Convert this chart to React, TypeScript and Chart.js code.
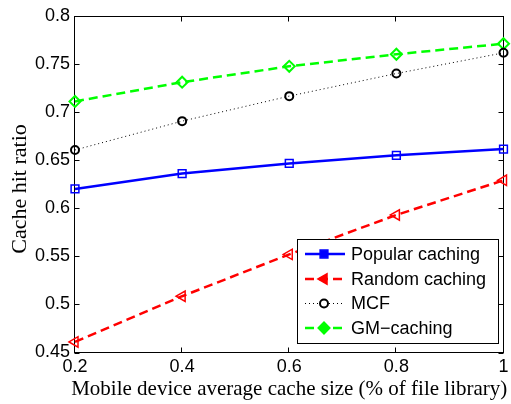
import { useEffect, useRef } from "react";
import { Chart, registerables } from "chart.js";

Chart.register(...registerables);

const cacheSizes = [0.2, 0.4, 0.6, 0.8, 1];
const popularCaching = [0.62, 0.636, 0.6465, 0.655, 0.6615];
const randomCaching = [0.461, 0.5085, 0.552, 0.593, 0.629];
const mcf = [0.6605, 0.6905, 0.7165, 0.74, 0.7615];
const gmCaching = [0.711, 0.731, 0.7475, 0.76, 0.771];
const xTicks = [0.2, 0.4, 0.6, 0.8, 1];
const yTicks = [0.45, 0.5, 0.55, 0.6, 0.65, 0.7, 0.75, 0.8];
const seriesNames = ["Popular caching", "Random caching", "MCF", "GM\u2212caching"];
const xTitle = "Mobile device average cache size (% of file library)";
const yTitle = "Cache hit ratio";

const TICK_FONT = "Liberation Sans";
const TITLE_FONT = "Liberation Serif";

const fmt = (v: number) => String(Math.round(v * 100) / 100);

function drawMarker(ctx: CanvasRenderingContext2D, style: string, x: number, y: number, r: number, filled: boolean) {
  ctx.beginPath();
  if (style === "rect") {
    const s = r * Math.SQRT1_2;
    ctx.rect(x - s, y - s, 2 * s, 2 * s);
  } else if (style === "triangle") {
    ctx.moveTo(x - r, y);
    ctx.lineTo(x + r * 0.5, y - r * 0.866);
    ctx.lineTo(x + r * 0.5, y + r * 0.866);
    ctx.closePath();
  } else if (style === "circle") {
    ctx.arc(x, y, r, 0, Math.PI * 2);
  } else {
    ctx.moveTo(x - r, y);
    ctx.lineTo(x, y - r);
    ctx.lineTo(x + r, y);
    ctx.lineTo(x, y + r);
    ctx.closePath();
  }
  if (filled) ctx.fill();
  ctx.stroke();
}

const framePlugin = {
  id: "frame",
  beforeDatasetsDraw(chart: any) {
    const { ctx, chartArea: a, scales } = chart;
    ctx.save();
    ctx.strokeStyle = "#000";
    ctx.lineWidth = 1;
    const L = Math.round(a.left) - 0.5;
    const R = Math.round(a.right) - 0.5;
    const T = Math.round(a.top) + 0.5;
    const B = Math.round(a.bottom) - 0.5;
    ctx.strokeRect(L, T, R - L, B - T);
    ctx.beginPath();
    for (const v of yTicks) {
      const py = Math.round(scales.y.getPixelForValue(v)) + 0.5;
      ctx.moveTo(L, py);
      ctx.lineTo(L + 5, py);
      ctx.moveTo(R, py);
      ctx.lineTo(R - 5, py);
    }
    for (const v of xTicks) {
      const px = Math.round(scales.x.getPixelForValue(v)) - 0.5;
      ctx.moveTo(px, B);
      ctx.lineTo(px, B - 5);
      ctx.moveTo(px, T);
      ctx.lineTo(px, T + 5);
    }
    ctx.stroke();
    ctx.restore();
  },
  afterDraw(chart: any) {
    const { ctx, chartArea: a } = chart;
    ctx.save();
    // axis titles
    ctx.fillStyle = "#000";
    ctx.font = `21px "${TITLE_FONT}"`;
    ctx.textAlign = "center";
    ctx.textBaseline = "alphabetic";
    ctx.fillText(xTitle, (a.left + a.right) / 2, 395);
    ctx.save();
    ctx.font = `22px "${TITLE_FONT}"`;
    ctx.translate(26, 189);
    ctx.rotate(-Math.PI / 2);
    ctx.fillText(yTitle, 0, 0);
    ctx.restore();

    // legend
    const bx = 297.5, by = 239.5, bw = 201, bh = 104;
    ctx.fillStyle = "#fff";
    ctx.fillRect(bx, by, bw, bh);
    ctx.strokeStyle = "#000";
    ctx.lineWidth = 1;
    ctx.strokeRect(bx, by, bw, bh);
    const rows = [254, 279, 303.5, 328];
    chart.data.datasets.forEach((ds: any, i: number) => {
      const y = rows[i];
      ctx.save();
      ctx.strokeStyle = ds.borderColor;
      ctx.lineWidth = ds.borderWidth;
      ctx.setLineDash(ds.borderDash || []);
      ctx.beginPath();
      ctx.moveTo(305, y);
      ctx.lineTo(345, y);
      ctx.stroke();
      ctx.setLineDash([]);
      ctx.lineWidth = ds.pointBorderWidth;
      ctx.fillStyle = ds.pointStyle === "circle" ? "#fff" : ds.pointBorderColor;
      drawMarker(ctx, ds.pointStyle, 324, y, ds.pointRadius, true);
      ctx.restore();
      ctx.fillStyle = "#000";
      ctx.font = `18px "${TICK_FONT}"`;
      ctx.textAlign = "left";
      ctx.textBaseline = "middle";
      ctx.fillText(ds.label, 351, y + 1);
    });
    ctx.restore();
  },
};

export default function App() {
  const ref = useRef<HTMLCanvasElement | null>(null);
  useEffect(() => {
    if (!ref.current) return;
    const mk = (vals: number[]) => cacheSizes.map((x, i) => ({ x, y: vals[i] }));
    const chart = new Chart(ref.current, {
      type: "line",
      data: {
        datasets: [
          {
            label: seriesNames[0],
            data: mk(popularCaching),
            borderColor: "#0000ff",
            backgroundColor: "rgba(0,0,0,0)",
            borderWidth: 2.5,
            pointStyle: "rect",
            pointRadius: 5.5,
            pointBorderWidth: 1.5,
            pointBorderColor: "#0000ff",
            pointBackgroundColor: "rgba(0,0,0,0)",
            clip: false,
          },
          {
            label: seriesNames[1],
            data: mk(randomCaching),
            borderColor: "#ff0000",
            backgroundColor: "rgba(0,0,0,0)",
            borderWidth: 2.5,
            borderDash: [9, 5],
            pointStyle: "triangle",
            pointRotation: -90,
            pointRadius: 6,
            pointBorderWidth: 1.5,
            pointBorderColor: "#ff0000",
            pointBackgroundColor: "rgba(0,0,0,0)",
            clip: false,
          },
          {
            label: seriesNames[2],
            data: mk(mcf),
            borderColor: "#000000",
            backgroundColor: "rgba(0,0,0,0)",
            borderWidth: 1,
            borderDash: [1, 3],
            pointStyle: "circle",
            pointRadius: 4,
            pointBorderWidth: 2,
            pointBorderColor: "#000000",
            pointBackgroundColor: "rgba(0,0,0,0)",
            clip: false,
          },
          {
            label: seriesNames[3],
            data: mk(gmCaching),
            borderColor: "#00ff00",
            backgroundColor: "rgba(0,0,0,0)",
            borderWidth: 2.5,
            borderDash: [9, 5],
            pointStyle: "rectRot",
            pointRadius: 5.5,
            pointBorderWidth: 2,
            pointBorderColor: "#00ff00",
            pointBackgroundColor: "rgba(0,0,0,0)",
            clip: false,
          },
        ],
      } as any,
      options: {
        responsive: false,
        animation: false,
        layout: { padding: { left: 0, right: 0, top: 14, bottom: 0 } },
        plugins: { legend: { display: false }, tooltip: { enabled: false } },
        scales: {
          x: {
            type: "linear",
            min: 0.2,
            max: 1,
            afterBuildTicks: (s: any) => {
              s.ticks = xTicks.map((v) => ({ value: v }));
            },
            afterFit: (s: any) => {
              s.height = 51.5;
              s.paddingRight = 4;
              s.paddingLeft = 0;
            },
            grid: { display: false, drawTicks: false },
            border: { display: false },
            ticks: {
              color: "#000",
              padding: 4,
              maxRotation: 0,
              callback: (v: any) => fmt(Number(v)),
              font: { family: TICK_FONT, size: 18 },
            },
          },
          y: {
            type: "linear",
            min: 0.45,
            max: 0.8,
            afterBuildTicks: (s: any) => {
              s.ticks = yTicks.map((v) => ({ value: v }));
            },
            afterFit: (s: any) => {
              s.width = 75;
            },
            grid: { display: false, drawTicks: false },
            border: { display: false },
            ticks: {
              color: "#000",
              padding: 5,
              callback: (v: any) => fmt(Number(v)),
              font: { family: TICK_FONT, size: 18 },
            },
          },
        },
      } as any,
      plugins: [framePlugin],
    });
    return () => chart.destroy();
  }, []);
  return (
    <div style={{ position: "absolute", left: 0, top: 0, width: 511, height: 404, background: "#fff" }}>
      <canvas ref={ref} width={511} height={404} style={{ width: 511, height: 404 }} />
    </div>
  );
}
